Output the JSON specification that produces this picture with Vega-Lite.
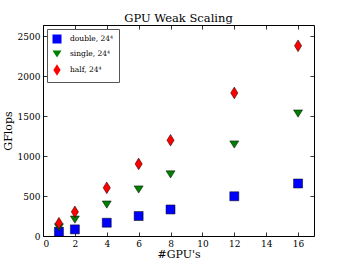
{
  "$schema": "https://vega.github.io/schema/vega-lite/v6.json",
  "width": 271,
  "height": 211,
  "autosize": "none",
  "padding": {"left": 43, "top": 25, "right": 35, "bottom": 27},
  "title": {"text": "GPU Weak Scaling", "font": "DejaVu Serif", "fontSize": 11.5, "fontWeight": "normal", "offset": 0, "color": "black"},
  "data": {"values": [
    {"gpus": 1, "gflops": 54, "series": "double, 24⁴"},
    {"gpus": 2, "gflops": 83, "series": "double, 24⁴"},
    {"gpus": 4, "gflops": 166, "series": "double, 24⁴"},
    {"gpus": 6, "gflops": 250, "series": "double, 24⁴"},
    {"gpus": 8, "gflops": 332, "series": "double, 24⁴"},
    {"gpus": 12, "gflops": 497, "series": "double, 24⁴"},
    {"gpus": 16, "gflops": 657, "series": "double, 24⁴"},
    {"gpus": 1, "gflops": 108, "series": "single, 24⁴"},
    {"gpus": 2, "gflops": 205, "series": "single, 24⁴"},
    {"gpus": 4, "gflops": 393, "series": "single, 24⁴"},
    {"gpus": 6, "gflops": 582, "series": "single, 24⁴"},
    {"gpus": 8, "gflops": 770, "series": "single, 24⁴"},
    {"gpus": 12, "gflops": 1145, "series": "single, 24⁴"},
    {"gpus": 16, "gflops": 1532, "series": "single, 24⁴"},
    {"gpus": 1, "gflops": 160, "series": "half, 24⁴"},
    {"gpus": 2, "gflops": 302, "series": "half, 24⁴"},
    {"gpus": 4, "gflops": 603, "series": "half, 24⁴"},
    {"gpus": 6, "gflops": 902, "series": "half, 24⁴"},
    {"gpus": 8, "gflops": 1198, "series": "half, 24⁴"},
    {"gpus": 12, "gflops": 1790, "series": "half, 24⁴"},
    {"gpus": 16, "gflops": 2380, "series": "half, 24⁴"}
  ]},
  "layer": [
    {
      "mark": {"type": "point", "filled": true, "size": 81, "stroke": "black", "strokeWidth": 0.5, "opacity": 1},
      "encoding": {
        "x": {"field": "gpus", "type": "quantitative", "scale": {"domain": [0, 17], "nice": false, "zero": false},
              "axis": {"orient": "bottom", "title": "#GPU's", "values": [0,2,4,6,8,10,12,14,16]}},
        "y": {"field": "gflops", "type": "quantitative", "scale": {"domain": [0, 2640], "nice": false},
              "axis": {"orient": "left", "title": "GFlops", "format": "d", "values": [0,500,1000,1500,2000,2500]}},
        "color": {"field": "series", "type": "nominal",
                  "scale": {"domain": ["double, 24⁴", "single, 24⁴", "half, 24⁴"], "range": ["#0000ff", "#008000", "#ff0000"]},
                  "legend": {"title": null}},
        "shape": {"field": "series", "type": "nominal",
                  "scale": {"domain": ["double, 24⁴", "single, 24⁴", "half, 24⁴"],
                            "range": ["square", "M-1,-0.8L1,-0.8L0,0.8Z", "M0,-1.3L0.8,0L0,1.3L-0.8,0Z"]},
                  "legend": {"title": null}}
      }
    },
    {
      "mark": {"type": "point", "opacity": 0},
      "encoding": {
        "x": {"field": "gpus", "type": "quantitative", "axis": {"orient": "top", "labels": false, "title": null, "values": [0,2,4,6,8,10,12,14,16]}},
        "y": {"field": "gflops", "type": "quantitative", "axis": {"orient": "right", "labels": false, "title": null, "values": [0,500,1000,1500,2000,2500]}}
      }
    }
  ],
  "resolve": {"axis": {"x": "independent", "y": "independent"}},
  "config": {
    "view": {"stroke": "black", "strokeWidth": 1},
    "axis": {
      "domain": false, "grid": false,
      "tickSize": -4, "tickColor": "black", "tickWidth": 0.8,
      "labelPadding": 7, "labelFont": "DejaVu Serif", "labelFontSize": 9, "labelColor": "black",
      "titleFont": "DejaVu Serif", "titleFontSize": 11, "titleFontWeight": "normal", "titleColor": "black"
    },
    "axisX": {"titlePadding": 0},
    "axisY": {"titlePadding": 4},
    "legend": {
      "orient": "top-left", "offset": 4, "padding": 5,
      "strokeColor": "#555555", "strokeWidth": 1, "fillColor": "white",
      "labelFont": "DejaVu Serif", "labelFontSize": 7.5, "labelColor": "black", "labelOffset": 8,
      "symbolSize": 81, "symbolStrokeColor": "black", "symbolStrokeWidth": 0.5, "symbolOpacity": 1,
      "rowPadding": 4
    }
  }
}
